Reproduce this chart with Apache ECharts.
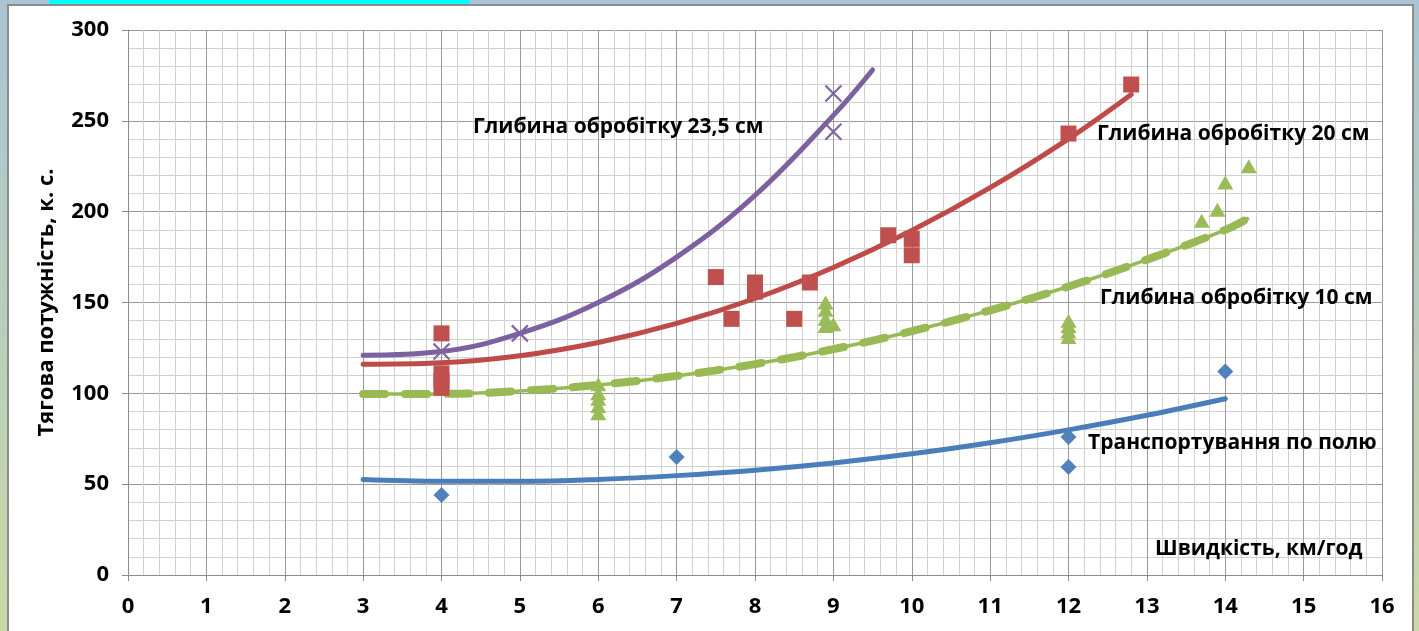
<!DOCTYPE html>
<html>
<head>
<meta charset="utf-8">
<script src="https://cdn.jsdelivr.net/npm/echarts@6/dist/echarts.min.js"></script>
<style>
html,body{margin:0;padding:0;width:1419px;height:631px;overflow:hidden;}
#chart{width:1419px;height:631px;}
</style>
</head>
<body>
<div id="chart"></div>
<script>
// ---------- data ----------
const seriesNames = ['Транспортування по полю', 'Глибина обробітку 10 см', 'Глибина обробітку 20 см', 'Глибина обробітку 23,5 см'];

// measured points
const transportPoints = [[4, 44], [7, 65], [12, 76], [12, 59.5], [14, 112]];
const depth10Points = [[6, 105], [6, 100], [6, 97], [6, 93], [6, 89], [8.9, 150], [8.9, 146], [8.9, 141], [8.9, 137], [9, 138], [12, 140], [12, 137], [12, 134], [12, 131], [13.7, 195], [13.9, 201], [14, 216], [14.3, 225]];
const depth20Points = [[4, 133], [4, 111], [4, 107], [4, 103], [7.5, 164], [7.7, 141], [8, 161], [8, 156], [8.5, 141], [8.7, 161], [9.7, 187], [10, 185], [10, 176], [12, 243], [12.8, 270]];
const depth235Points = [[4, 123], [5, 133], [9, 265], [9, 244]];

// trend lines
const transportTrendX = [3, 4, 5, 6, 7, 8, 9, 10, 11, 12, 13, 14];
const transportTrendY = [52.6, 51.6, 51.6, 52.6, 54.7, 57.7, 61.7, 66.7, 72.8, 79.9, 87.9, 97.0];
const depth10TrendX = [3, 4, 5, 6, 7, 8, 9, 10, 11, 12, 13, 14, 14.3];
const depth10TrendY = [99.7, 99.7, 101.3, 104.6, 109.6, 116.1, 124.3, 134.2, 145.7, 158.8, 173.6, 190.0, 196.5];
const depth20TrendX = [3, 4, 5, 6, 7, 8, 9, 10, 11, 12, 12.8];
const depth20TrendY = [116, 116.8, 120.7, 128, 138.5, 152.2, 169.3, 189.6, 213.2, 240.1, 264.5];
const depth235TrendX = [3, 4, 5, 6, 7, 8, 9, 9.5];
const depth235TrendY = [121, 123, 133, 150, 175, 209, 253, 278];

const xAxisTitle = 'Швидкість, км/год';
const yAxisTitle = 'Тягова потужність, к. с.';

// ---------- helpers ----------
const zip = (xs, ys) => xs.map((x, i) => [x, ys[i]]);
const C = {blue: '#4a7ebb', red: '#be4b48', green: '#98b954', purple: '#7d60a0'};
const FONT = '"Open Sans", "Noto Sans", sans-serif';
const ANN = 'bold 21px ' + FONT;

const chart = echarts.init(document.getElementById('chart'), null, {renderer: 'canvas'});

function trend(data, color, extra) {
  return Object.assign({
    type: 'line', data: data, smooth: 0.4, showSymbol: false, symbol: 'none',
    lineStyle: {color: color, width: 5, cap: 'round'}, silent: true, z: 3
  }, extra || {});
}

const option = {
  animation: false,
  graphic: [
    {type: 'rect', z: -100, shape: {x: 0, y: 0, width: 1419, height: 631},
     style: {fill: new echarts.graphic.LinearGradient(0, 0, 0, 1, [{offset: 0, color: '#a9c4d3'}, {offset: 1, color: '#c9d9a5'}])}},
    {type: 'rect', z: -99, shape: {x: 49, y: 0, width: 421, height: 5}, style: {fill: '#00ffff'}},
    {type: 'rect', z: -98, shape: {x: 8, y: 5, width: 1405, height: 640},
     style: {fill: '#ffffff', stroke: '#8c8c8c', lineWidth: 2}},
    {type: 'text', z: 50, x: 473, y: 127, style: {text: seriesNames[3], font: ANN, fill: '#000', textVerticalAlign: 'middle'}},
    {type: 'text', z: 50, x: 1097, y: 134, style: {text: seriesNames[2], font: ANN, fill: '#000', textVerticalAlign: 'middle'}},
    {type: 'text', z: 50, x: 1100, y: 298, style: {text: seriesNames[1], font: ANN, fill: '#000', textVerticalAlign: 'middle'}},
    {type: 'text', z: 50, x: 1088, y: 443, style: {text: seriesNames[0], font: ANN, fill: '#000', textVerticalAlign: 'middle'}},
    {type: 'text', z: 50, x: 1155, y: 549, style: {text: xAxisTitle, font: ANN, fill: '#000', textVerticalAlign: 'middle'}}
  ],
  grid: {left: 128, right: 37, top: 30, bottom: 56, containLabel: false},
  xAxis: {
    type: 'value', min: 0, max: 16, interval: 1,
    axisLine: {show: true, onZero: false, lineStyle: {color: '#8c8c8c', width: 1}},
    axisTick: {show: true, length: 6, inside: false, lineStyle: {color: '#8c8c8c'}},
    axisLabel: {color: '#000', fontFamily: FONT, fontWeight: 'bold', fontSize: 22, margin: 21},
    splitLine: {show: true, lineStyle: {color: '#999999', width: 1}},
    minorTick: {show: false, splitNumber: 5},
    minorSplitLine: {show: true, lineStyle: {color: '#d2d2d2', width: 1}}
  },
  yAxis: {
    type: 'value', min: 0, max: 300, interval: 50,
    name: yAxisTitle, nameLocation: 'middle', nameGap: 70, nameRotate: 90,
    nameTextStyle: {color: '#000', fontFamily: FONT, fontWeight: 'bold', fontSize: 22},
    axisLine: {show: true, lineStyle: {color: '#8c8c8c', width: 1}},
    axisTick: {show: true, length: 6, lineStyle: {color: '#8c8c8c'}},
    axisLabel: {color: '#000', fontFamily: FONT, fontWeight: 'bold', fontSize: 22, margin: 19},
    splitLine: {show: true, lineStyle: {color: '#999999', width: 1}},
    minorTick: {show: false, splitNumber: 5},
    minorSplitLine: {show: true, lineStyle: {color: '#d2d2d2', width: 1}}
  },
  series: [
    trend(zip(transportTrendX, transportTrendY), C.blue),
    trend(zip(depth10TrendX, depth10TrendY), C.green, {lineStyle: {color: C.green, width: 3.5}}),
    trend(zip(depth10TrendX, depth10TrendY), C.green, {lineStyle: {color: C.green, width: 8, type: [22, 20], cap: 'round'}, z: 4}),
    trend(zip(depth20TrendX, depth20TrendY), C.red),
    trend(zip(depth235TrendX, depth235TrendY), C.purple),
    {type: 'scatter', name: seriesNames[0], data: transportPoints, symbol: 'diamond', symbolSize: 16, itemStyle: {color: '#4f81bd', opacity: 1}, z: 5},
    {type: 'scatter', name: seriesNames[1], data: depth10Points, symbol: 'triangle', symbolSize: [16, 14], itemStyle: {color: '#9bbb59', opacity: 1}, z: 5},
    {type: 'scatter', name: seriesNames[2], data: depth20Points, symbol: 'rect', symbolSize: 16, itemStyle: {color: '#c0504d', opacity: 1}, z: 5},
    {type: 'scatter', name: seriesNames[3], data: depth235Points, symbol: 'path://M0,0 L10,10 M10,0 L0,10', symbolSize: 16,
     itemStyle: {color: 'rgba(0,0,0,0)', borderColor: '#8064a2', borderWidth: 2.2, opacity: 1}, z: 6}
  ]
};
chart.setOption(option);
</script>
</body>
</html>
